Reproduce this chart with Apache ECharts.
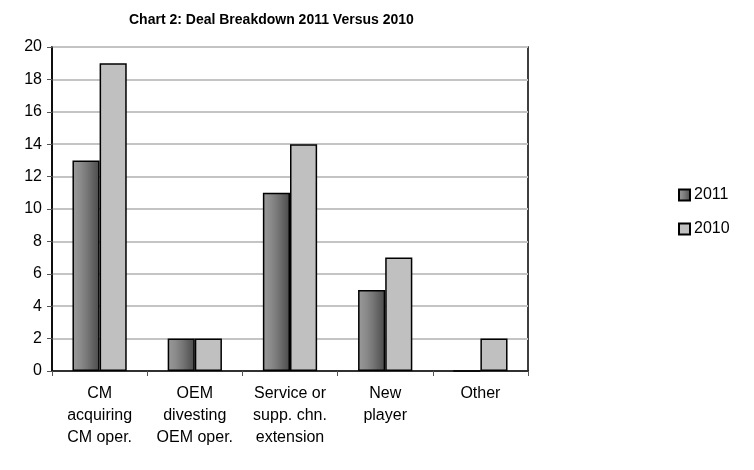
<!DOCTYPE html>
<html>
<head>
<meta charset="utf-8">
<script src="https://cdn.jsdelivr.net/npm/echarts@6/dist/echarts.min.js"></script>
<style>
  html, body { margin: 0; padding: 0; background: #fff; }
  #chart { width: 754px; height: 470px; }
</style>
</head>
<body>
<div id="chart"></div>
<script>
// Deal categories (multi-line axis labels)
const categories = [
  'CM\nacquiring\nCM oper.',
  'OEM\ndivesting\nOEM oper.',
  'Service or\nsupp. chn.\nextension',
  'New\nplayer',
  'Other'
];
const seriesNames = ['2011', '2010'];
const deals2011 = [13, 2, 11, 5, 0];
const deals2010 = [19, 2, 14, 7, 2];
const yTicks = { min: 0, max: 20, interval: 2 };

const FONT = '"Liberation Sans", Arial, sans-serif';

// Banded horizontal shading, light on the left, dark on the right
const shaded = new echarts.graphic.LinearGradient(0, 0, 1, 0, [
  { offset: 0.00, color: '#9a9a9a' },
  { offset: 0.30, color: '#8a8a8a' },
  { offset: 0.55, color: '#767676' },
  { offset: 0.75, color: '#626262' },
  { offset: 1.00, color: '#4a4a4a' }
]);

const chart = echarts.init(document.getElementById('chart'), null, { renderer: 'canvas' });

chart.setOption({
  animation: false,
  backgroundColor: '#ffffff',
  title: {
    text: 'Chart 2: Deal Breakdown 2011 Versus 2010',
    left: 124,
    top: 8,
    textStyle: { fontFamily: FONT, fontSize: 14, fontWeight: 'bold', color: '#000' }
  },
  legend: {
    orient: 'vertical',
    left: 673,
    top: 182,
    itemGap: 18,
    itemWidth: 11,
    itemHeight: 11,
    icon: 'rect',
    textStyle: { fontFamily: FONT, fontSize: 16, color: '#000', padding: [0, 0, 0, -1] },
    data: seriesNames
  },
  grid: {
    left: 52,
    right: 226,
    top: 47,
    bottom: 99,
    show: true,
    borderColor: '#000',
    borderWidth: 1.5,
    backgroundColor: '#fff'
  },
  xAxis: {
    type: 'category',
    data: categories,
    axisLine: { lineStyle: { color: '#000', width: 1.5 } },
    axisTick: { show: true, length: 5, lineStyle: { color: '#555' } },
    axisLabel: {
      interval: 0,
      margin: 12,
      fontFamily: FONT,
      fontSize: 16,
      lineHeight: 22,
      color: '#000'
    }
  },
  yAxis: {
    type: 'value',
    min: yTicks.min,
    max: yTicks.max,
    interval: yTicks.interval,
    axisLine: { show: true, lineStyle: { color: '#000', width: 1.5 } },
    axisTick: { show: true, inside: false, length: 5, lineStyle: { color: '#555' } },
    axisLabel: { fontFamily: FONT, fontSize: 16, color: '#000', margin: 10 },
    splitLine: { show: true, lineStyle: { color: '#c4c4c4', width: 2 } }
  },
  series: [
    {
      name: seriesNames[0],
      type: 'bar',
      data: deals2011,
      barGap: '0%',
      barCategoryGap: '43%',
      itemStyle: { color: shaded, borderColor: '#000', borderWidth: 1.5 }
    },
    {
      name: seriesNames[1],
      type: 'bar',
      data: deals2010,
      barGap: '0%',
      barCategoryGap: '43%',
      itemStyle: { color: '#c0c0c0', borderColor: '#000', borderWidth: 1.5 }
    }
  ]
});
</script>
</body>
</html>
